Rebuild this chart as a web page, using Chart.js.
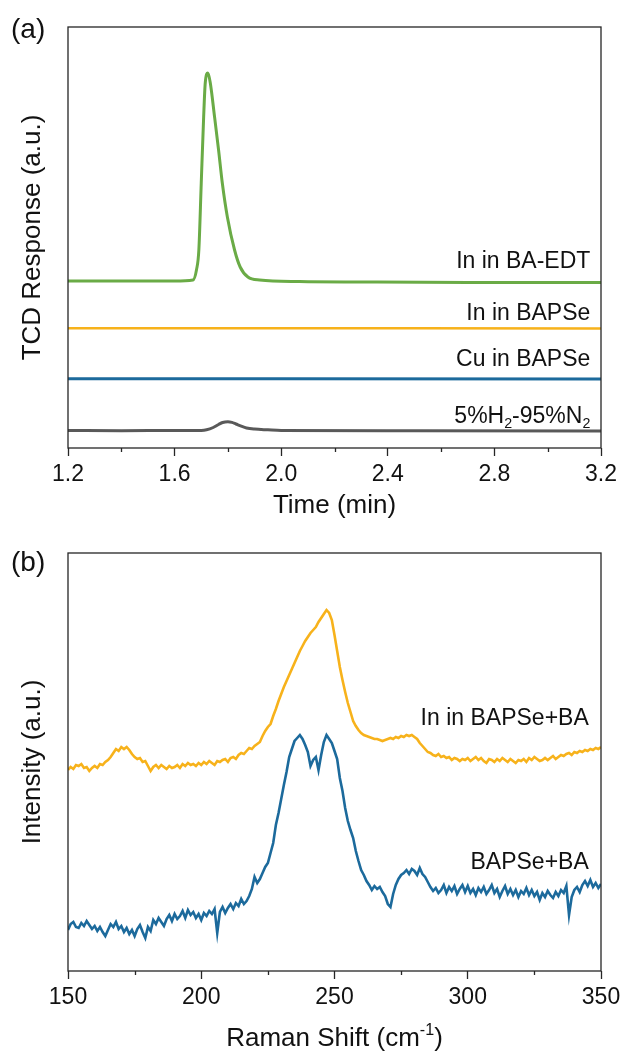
<!DOCTYPE html>
<html>
<head>
<meta charset="utf-8">
<script src="https://cdn.jsdelivr.net/npm/chart.js@4.4.1/dist/chart.umd.min.js"></script>
<style>
  html, body { margin: 0; padding: 0; background: #fff; }
  #wrap { position: relative; width: 622px; height: 1052px; }
  canvas { position: absolute; left: 0; }
  #chartA { top: 0; }
  #chartB { top: 530px; }
</style>
</head>
<body>
<div id="wrap">
  <canvas id="chartA" width="622" height="530"></canvas>
  <canvas id="chartB" width="622" height="522"></canvas>
</div>
<script>
const FONT = '"Liberation Sans", Arial, sans-serif';

// ---- (a) TCD ----
const timeTicks = [1.2, 1.6, 2.0, 2.4, 2.8, 3.2];
const timeMinor = [1.4, 1.8, 2.2, 2.6, 3.0];

const baEdtTime = [1.2, 1.4, 1.6, 1.669, 1.682, 1.691, 1.700, 1.709, 1.715, 1.725, 1.734, 1.750, 1.765, 1.779, 1.798, 1.825, 1.846, 1.875, 1.919, 2.069, 2.3, 2.7, 3.2];
const baEdtResp = [167, 167, 167, 168, 178, 198, 265, 331, 365, 375, 365, 331, 298, 265, 231, 198, 181, 171, 168, 166.5, 166, 165.5, 165.5];

const inBapseTime = [1.2, 2.5, 3.2];
const inBapseResp = [119.7, 119.7, 119.5];

const cuBapseTime = [1.2, 2.0, 3.2];
const cuBapseResp = [69.3, 69.3, 69.0];

const h2n2Time = [1.2, 1.4, 1.6, 1.70, 1.72, 1.745, 1.765, 1.78, 1.80, 1.815, 1.83, 1.85, 1.87, 1.90, 1.95, 2.0, 2.5, 3.2];
const h2n2Resp = [17.5, 17.3, 17.5, 17.6, 18.2, 20.5, 23.5, 25.5, 26.3, 25.6, 24, 21.8, 20, 18.9, 18.2, 17.6, 17.2, 17.0];

// ---- (b) Raman, 150-350 cm-1 in 1 cm-1 steps ----
const ramanTicks = [150, 200, 250, 300, 350];
const ramanMinor = [175, 225, 275, 325];

const ramanShift = [
    150, 151, 152, 153, 154, 155, 156, 157, 158, 159,
    160, 161, 162, 163, 164, 165, 166, 167, 168, 169,
    170, 171, 172, 173, 174, 175, 176, 177, 178, 179,
    180, 181, 182, 183, 184, 185, 186, 187, 188, 189,
    190, 191, 192, 193, 194, 195, 196, 197, 198, 199,
    200, 201, 202, 203, 204, 205, 206, 207, 208, 209,
    210, 211, 212, 213, 214, 215, 216, 217, 218, 219,
    220, 221, 222, 223, 224, 225, 226, 227, 228, 229,
    230, 231, 232, 233, 234, 235, 236, 237, 238, 239,
    240, 241, 242, 243, 244, 245, 246, 247, 248, 249,
    250, 251, 252, 253, 254, 255, 256, 257, 258, 259,
    260, 261, 262, 263, 264, 265, 266, 267, 268, 269,
    270, 271, 272, 273, 274, 275, 276, 277, 278, 279,
    280, 281, 282, 283, 284, 285, 286, 287, 288, 289,
    290, 291, 292, 293, 294, 295, 296, 297, 298, 299,
    300, 301, 302, 303, 304, 305, 306, 307, 308, 309,
    310, 311, 312, 313, 314, 315, 316, 317, 318, 319,
    320, 321, 322, 323, 324, 325, 326, 327, 328, 329,
    330, 331, 332, 333, 334, 335, 336, 337, 338, 339,
    340, 341, 342, 343, 344, 345, 346, 347, 348, 349,
    350
];

const inBapseBaInt = [
    201, 204, 202, 206, 205, 207, 203, 204, 200, 203,
    205, 203, 207, 206, 209, 211, 214, 218, 222, 220,
    224, 222, 224, 221, 217, 214, 212, 213, 209, 210,
    205, 200, 204, 206, 203, 206, 204, 202, 205, 203,
    204, 206, 203, 207, 205, 208, 206, 207, 205, 208,
    206, 209, 207, 210, 208, 206, 210, 209, 211, 212,
    209, 213, 214, 212, 216, 218, 217, 220, 223, 222,
    225, 227, 229, 235, 240, 244, 247, 255, 262, 270,
    277, 284, 290, 296, 302, 308, 314, 320, 325, 330,
    334, 338, 341, 344, 349, 353, 357, 361, 358, 351,
    336, 320, 304, 291, 279, 268, 259, 250, 245, 241,
    238, 236, 235, 234, 233, 232, 232, 231, 230, 231,
    232, 233, 232, 234, 233, 235, 234, 236, 235, 236,
    234, 232, 228, 225, 222, 219, 218, 216, 215, 217,
    214, 215, 213, 214, 211, 213, 212, 210, 212, 211,
    213, 210, 212, 214, 211, 213, 210, 208, 212, 211,
    209, 212, 210, 213, 211, 209, 212, 210, 208, 211,
    210, 212, 209, 213, 211, 214, 212, 210, 211, 213,
    211, 213, 215, 212, 214, 216, 215, 217, 218, 216,
    219, 218, 220, 219, 221, 220, 222, 221, 223, 222,
    224
];

const bapseBaInt = [
    41, 47, 49, 44, 43, 48, 45, 50, 46, 42,
    45, 40, 44, 39, 35, 41, 47, 44, 49, 42,
    45, 39, 43, 37, 41, 35, 42, 46, 39, 33,
    44, 40, 51, 47, 53, 49, 45, 52, 56, 50,
    57, 52, 55, 60, 53, 61, 56, 59, 53, 57,
    51, 58, 55, 60, 57, 62, 38, 59, 64, 58,
    63, 67, 62, 68, 65, 72, 67, 70, 75, 82,
    94, 88, 92, 98, 104, 108, 118, 128, 146, 158,
    172, 186, 199, 214, 222, 230, 233, 236, 232, 226,
    219, 205, 211, 214, 201, 216, 229, 236, 232, 228,
    220, 212, 193, 180, 163, 150, 141, 133, 120, 110,
    101, 96, 90, 86, 81, 85, 82, 84, 79, 75,
    67, 64, 77, 86, 92, 96, 98, 101, 97, 102,
    100, 96, 103, 97, 94, 89, 84, 80, 83, 78,
    81, 86, 78, 84, 80, 85, 77, 82, 86, 79,
    85, 78, 82, 76, 83, 79, 84, 77, 81, 86,
    78, 82, 74, 80, 85, 77, 82, 76, 81, 74,
    80, 77, 83, 76, 81, 75, 79, 71, 78, 74,
    80, 76, 73, 79, 75, 81, 78, 85, 56, 74,
    81, 84, 79, 86, 90, 85, 91, 84, 88, 83,
    87
];

const toPoints = (xs, ys) => xs.map((x, i) => ({ x: x, y: ys[i] }));

// frame, minor ticks and rich text labels
const decorPlugin = {
    id: 'decor',
    afterDraw(chart, args, opts) {
        const ctx = chart.ctx;
        const area = chart.chartArea;
        const xs = chart.scales.x;
        const ys = chart.scales.y;
        ctx.save();
        ctx.strokeStyle = '#262626';
        ctx.lineWidth = 1.3;
        ctx.strokeRect(area.left, area.top, area.right - area.left, area.bottom - area.top);
        ctx.beginPath();
        (opts.minor || []).forEach(v => {
            const px = Math.round(xs.getPixelForValue(v)) + 0.5;
            ctx.moveTo(px, area.bottom);
            ctx.lineTo(px, area.bottom + 4);
        });
        ctx.stroke();

        ctx.fillStyle = '#111';
        ctx.textBaseline = 'alphabetic';
        ctx.textAlign = 'left';
        const drawRich = (parts, x, y, size, align) => {
            const small = size * 0.62;
            let total = 0;
            parts.forEach(p => {
                ctx.font = `${p.sub || p.sup ? small : size}px ${FONT}`;
                total += ctx.measureText(p.t).width;
            });
            let cx = align === 'right' ? x - total : align === 'center' ? x - total / 2 : x;
            parts.forEach(p => {
                ctx.font = `${p.sub || p.sup ? small : size}px ${FONT}`;
                const dy = p.sub ? size * 0.22 : p.sup ? -size * 0.42 : 0;
                ctx.fillText(p.t, cx, y + dy);
                cx += ctx.measureText(p.t).width;
            });
        };
        (opts.labels || []).forEach(l => {
            const px = xs.getPixelForValue(l.x);
            const py = ys.getPixelForValue(l.y) + l.size * 0.36;
            drawRich(l.parts, px, py, l.size, 'right');
        });
        if (opts.xTitle) {
            drawRich(opts.xTitle, (area.left + area.right) / 2, area.bottom + opts.xTitleOffset, 26, 'center');
        }
        if (opts.panel) {
            ctx.font = `28px ${FONT}`;
            ctx.fillText(opts.panel, 11, opts.panelY);
        }
        ctx.restore();
    }
};

const lineSet = (label, pts, color, width, smooth) => ({
    label: label,
    data: pts,
    borderColor: color,
    backgroundColor: color,
    borderWidth: width,
    pointRadius: 0,
    fill: false,
    tension: 0,
    cubicInterpolationMode: smooth ? 'monotone' : 'default'
});

const xScale = (min, max, ticks, fmt, title, height, titlePad) => ({
    type: 'linear',
    min: min,
    max: max,
    afterBuildTicks: (scale) => { scale.ticks = ticks.map(v => ({ value: v })); },
    afterFit: (scale) => {
        scale.height = height;
        // end labels may hang outside the plot, keep the plot width fixed
        scale.paddingLeft = 0;
        scale.paddingRight = 0;
    },
    border: { display: false },
    grid: { drawOnChartArea: false, drawTicks: true, tickLength: 8, tickColor: '#262626', tickWidth: 1.3 },
    ticks: { color: '#111', font: { family: FONT, size: 23 }, padding: 5, maxRotation: 0, autoSkip: false, callback: fmt },
    title: title ? { display: true, text: title, color: '#111', font: { family: FONT, size: 26 }, padding: { top: 0, bottom: titlePad } } : { display: false }
});

const yScale = (max, title) => ({
    type: 'linear',
    min: 0,
    max: max,
    afterFit: (scale) => { scale.width = 68; },
    border: { display: false },
    grid: { display: false, drawTicks: false },
    ticks: { display: false },
    title: { display: true, text: title, color: '#111', font: { family: FONT, size: 26 }, padding: { top: 17, bottom: 0 } }
});

new Chart(document.getElementById('chartA'), {
    type: 'line',
    data: {
        datasets: [
            lineSet('In in BA-EDT', toPoints(baEdtTime, baEdtResp), '#6aab46', 3, true),
            lineSet('In in BAPSe', toPoints(inBapseTime, inBapseResp), '#f7b21b', 2.6, false),
            lineSet('Cu in BAPSe', toPoints(cuBapseTime, cuBapseResp), '#1c6a9c', 3, false),
            lineSet('5%H2-95%N2', toPoints(h2n2Time, h2n2Resp), '#595959', 3, true)
        ]
    },
    options: {
        responsive: false,
        devicePixelRatio: 1,
        animation: false,
        layout: { padding: { top: 27, right: 21, left: 0, bottom: 0 } },
        scales: {
            x: xScale(1.2, 3.2, timeTicks, v => v.toFixed(1), 'Time (min)', 82, 9),
            y: yScale(421, 'TCD Response (a.u.)')
        },
        plugins: {
            legend: { display: false },
            tooltip: { enabled: false },
            decor: {
                minor: timeMinor,
                panel: '(a)',
                panelY: 38,
                labels: [
                    { x: 3.16, y: 188, size: 23, parts: [{ t: 'In in BA-EDT' }] },
                    { x: 3.16, y: 136, size: 23, parts: [{ t: 'In in BAPSe' }] },
                    { x: 3.16, y: 90, size: 23, parts: [{ t: 'Cu in BAPSe' }] },
                    { x: 3.16, y: 33, size: 23, parts: [{ t: '5%H' }, { t: '2', sub: true }, { t: '-95%N' }, { t: '2', sub: true }] }
                ]
            }
        }
    },
    plugins: [decorPlugin]
});

new Chart(document.getElementById('chartB'), {
    type: 'line',
    data: {
        datasets: [
            lineSet('In in BAPSe+BA', toPoints(ramanShift, inBapseBaInt), '#f7b21b', 2.6, false),
            lineSet('BAPSe+BA', toPoints(ramanShift, bapseBaInt), '#1c6a9c', 2.6, false)
        ]
    },
    options: {
        responsive: false,
        devicePixelRatio: 1,
        animation: false,
        layout: { padding: { top: 23, right: 21, left: 0, bottom: 0 } },
        scales: {
            x: xScale(150, 350, ramanTicks, v => v, null, 81, 0),
            y: yScale(418, 'Intensity (a.u.)')
        },
        plugins: {
            legend: { display: false },
            tooltip: { enabled: false },
            decor: {
                minor: ramanMinor,
                panel: '(b)',
                panelY: 41,
                xTitle: [{ t: 'Raman Shift (cm' }, { t: '-1', sup: true }, { t: ')' }],
                xTitleOffset: 75,
                labels: [
                    { x: 345.4, y: 254, size: 23, parts: [{ t: 'In in BAPSe+BA' }] },
                    { x: 345.4, y: 110, size: 23, parts: [{ t: 'BAPSe+BA' }] }
                ]
            }
        }
    },
    plugins: [decorPlugin]
});
</script>
</body>
</html>
